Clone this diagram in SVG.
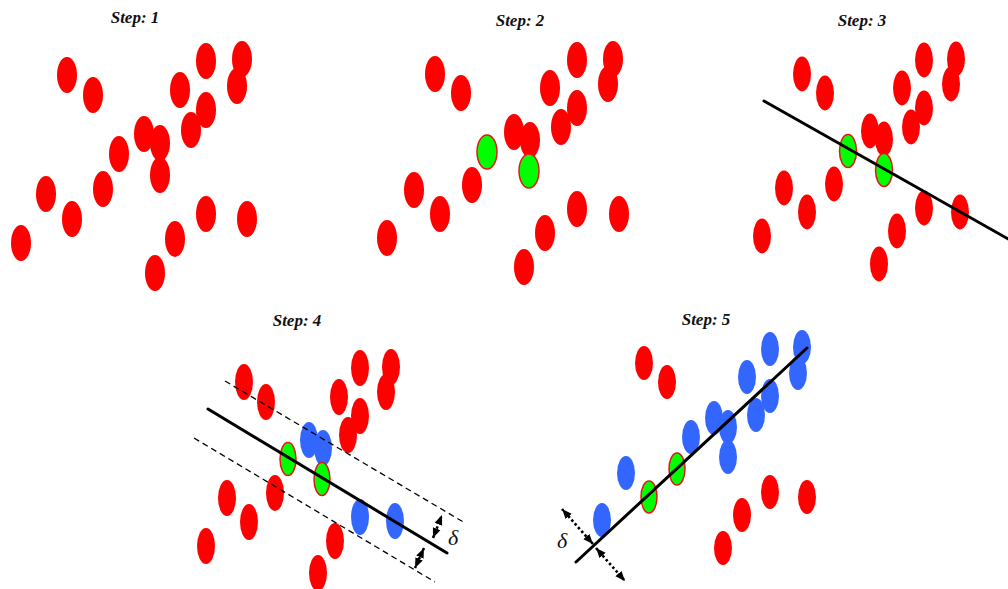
<svg xmlns="http://www.w3.org/2000/svg" width="1008" height="589" viewBox="0 0 1008 589">
<style>
.r{fill:#ff0000}
.b{fill:#3366ff}
.g{fill:#00ff00;stroke:#e8141c;stroke-width:1.5}
.t{font-family:"Liberation Serif","Times New Roman",serif;font-weight:bold;font-style:italic;font-size:17px;fill:#111;text-anchor:middle}
.d{font-family:"Liberation Serif","Times New Roman",serif;font-style:italic;font-size:22px;fill:#111;text-anchor:middle}
.ln{stroke:#000;stroke-width:3;fill:none;stroke-linecap:round}
.ds{stroke:#000;stroke-width:1.3;fill:none;stroke-dasharray:6 4}
.dt{stroke:#000;stroke-width:2.6;fill:none;stroke-dasharray:2.5 2.5;marker-start:url(#ah);marker-end:url(#ah)}
</style>
<defs>
<marker id="ah" viewBox="0 0 10 8" refX="10" refY="4" markerWidth="10" markerHeight="9" markerUnits="userSpaceOnUse" orient="auto-start-reverse">
<path d="M0,0 L10,4 L0,8 z" fill="#000"/>
</marker>
</defs>
<rect width="1008" height="589" fill="#fff"/>

<g id="step1">
<text class="t" x="135" y="23">Step: 1</text>
<g class="r">
<ellipse cx="67" cy="75" rx="10" ry="18"/>
<ellipse cx="93" cy="95" rx="10" ry="18"/>
<ellipse cx="206" cy="61" rx="10" ry="18"/>
<ellipse cx="242" cy="59" rx="10" ry="18"/>
<ellipse cx="237" cy="86" rx="10" ry="18"/>
<ellipse cx="180" cy="90" rx="10" ry="18"/>
<ellipse cx="206" cy="110" rx="10" ry="18"/>
<ellipse cx="191" cy="130" rx="10" ry="18"/>
<ellipse cx="144" cy="134" rx="10" ry="18"/>
<ellipse cx="160" cy="143" rx="10" ry="18"/>
<ellipse cx="119" cy="154" rx="10" ry="18"/>
<ellipse cx="160" cy="175" rx="10" ry="18"/>
<ellipse cx="103" cy="189" rx="10" ry="18"/>
<ellipse cx="46" cy="194" rx="10" ry="18"/>
<ellipse cx="72" cy="219" rx="10" ry="18"/>
<ellipse cx="21" cy="243" rx="10" ry="18"/>
<ellipse cx="206" cy="214" rx="10" ry="18"/>
<ellipse cx="247" cy="219" rx="10" ry="18"/>
<ellipse cx="175" cy="239" rx="10" ry="18"/>
<ellipse cx="155" cy="273" rx="10" ry="18"/>
</g>
</g>

<g id="step2">
<text class="t" x="520" y="26">Step: 2</text>
<g class="r">
<ellipse cx="435" cy="74" rx="10" ry="18"/>
<ellipse cx="461" cy="93" rx="10" ry="18"/>
<ellipse cx="577" cy="60" rx="10" ry="18"/>
<ellipse cx="613" cy="59" rx="10" ry="18"/>
<ellipse cx="608" cy="84" rx="10" ry="18"/>
<ellipse cx="550" cy="88" rx="10" ry="18"/>
<ellipse cx="577" cy="108" rx="10" ry="18"/>
<ellipse cx="561" cy="127" rx="10" ry="18"/>
<ellipse cx="514" cy="132" rx="10" ry="18"/>
<ellipse cx="530" cy="140" rx="10" ry="18"/>
<ellipse cx="472" cy="185" rx="10" ry="18"/>
<ellipse cx="414" cy="190" rx="10" ry="18"/>
<ellipse cx="440" cy="214" rx="10" ry="18"/>
<ellipse cx="387" cy="238" rx="10" ry="18"/>
<ellipse cx="577" cy="209" rx="10" ry="18"/>
<ellipse cx="619" cy="214" rx="10" ry="18"/>
<ellipse cx="545" cy="233" rx="10" ry="18"/>
<ellipse cx="524" cy="267" rx="10" ry="18"/>
</g>
<ellipse class="g" cx="487" cy="152" rx="10" ry="17"/>
<ellipse class="g" cx="529" cy="171" rx="10" ry="17"/>
</g>

<g id="step3">
<text class="t" x="862" y="26">Step: 3</text>
<g class="r">
<ellipse cx="802" cy="74" rx="9" ry="17.5"/>
<ellipse cx="825" cy="93" rx="9" ry="17.5"/>
<ellipse cx="924" cy="60" rx="9" ry="17.5"/>
<ellipse cx="956" cy="59" rx="9" ry="17.5"/>
<ellipse cx="951" cy="84" rx="9" ry="17.5"/>
<ellipse cx="902" cy="88" rx="9" ry="17.5"/>
<ellipse cx="924" cy="108" rx="9" ry="17.5"/>
<ellipse cx="911" cy="127" rx="9" ry="17.5"/>
<ellipse cx="870" cy="131" rx="9" ry="17.5"/>
<ellipse cx="884" cy="139" rx="9" ry="17.5"/>
<ellipse cx="834" cy="184" rx="9" ry="17.5"/>
<ellipse cx="784" cy="188" rx="9" ry="17.5"/>
<ellipse cx="807" cy="212" rx="9" ry="17.5"/>
<ellipse cx="762" cy="236" rx="9" ry="17.5"/>
<ellipse cx="924" cy="208" rx="9" ry="17.5"/>
<ellipse cx="960" cy="212" rx="9" ry="17.5"/>
<ellipse cx="897" cy="231" rx="9" ry="17.5"/>
<ellipse cx="879" cy="264" rx="9" ry="17.5"/>
</g>
<ellipse class="g" cx="848" cy="151" rx="8.5" ry="16.5"/>
<ellipse class="g" cx="884" cy="170" rx="8.5" ry="16.5"/>
</g>

<g id="step4">
<text class="t" x="297" y="326">Step: 4</text>
<g class="r">
<ellipse cx="244" cy="382" rx="9" ry="18"/>
<ellipse cx="266" cy="402" rx="9" ry="18"/>
<ellipse cx="360" cy="368" rx="9" ry="18"/>
<ellipse cx="391" cy="367" rx="9" ry="18"/>
<ellipse cx="386" cy="392" rx="9" ry="18"/>
<ellipse cx="339" cy="397" rx="9" ry="18"/>
<ellipse cx="360" cy="416" rx="9" ry="18"/>
<ellipse cx="348" cy="435" rx="9" ry="18"/>
<ellipse cx="275" cy="493" rx="9" ry="18"/>
<ellipse cx="227" cy="498" rx="9" ry="18"/>
<ellipse cx="249" cy="522" rx="9" ry="18"/>
<ellipse cx="206" cy="546" rx="9" ry="18"/>
<ellipse cx="335" cy="541" rx="9" ry="18"/>
<ellipse cx="318" cy="573" rx="9" ry="18"/>
</g>
<g class="b">
<ellipse cx="309" cy="440" rx="9" ry="18"/>
<ellipse cx="323" cy="448" rx="9" ry="18"/>
<ellipse cx="360" cy="517" rx="9" ry="18"/>
<ellipse cx="395" cy="521" rx="9" ry="18"/>
</g>
<ellipse class="g" cx="288" cy="459" rx="8" ry="16.5"/>
<ellipse class="g" cx="322" cy="479" rx="8" ry="16.5"/>
<text class="d" x="453" y="545">δ</text>
</g>

<g id="step5">
<text class="t" x="706" y="325">Step: 5</text>
<g class="r">
<ellipse cx="644" cy="363" rx="9" ry="17"/>
<ellipse cx="667" cy="382" rx="9" ry="17"/>
<ellipse cx="770" cy="492" rx="9" ry="17"/>
<ellipse cx="807" cy="497" rx="9" ry="17"/>
<ellipse cx="742" cy="515" rx="9" ry="17"/>
<ellipse cx="723" cy="548" rx="9" ry="17"/>
</g>
<g class="b">
<ellipse cx="770" cy="349" rx="9" ry="17"/>
<ellipse cx="802" cy="347" rx="9" ry="17"/>
<ellipse cx="798" cy="373" rx="9" ry="17"/>
<ellipse cx="747" cy="377" rx="9" ry="17"/>
<ellipse cx="770" cy="396" rx="9" ry="17"/>
<ellipse cx="756" cy="415" rx="9" ry="17"/>
<ellipse cx="714" cy="418" rx="9" ry="17"/>
<ellipse cx="728" cy="427" rx="9" ry="17"/>
<ellipse cx="691" cy="437" rx="9" ry="17"/>
<ellipse cx="728" cy="457" rx="9" ry="17"/>
<ellipse cx="626" cy="473" rx="9" ry="17"/>
<ellipse cx="602" cy="520" rx="9" ry="17"/>
</g>
<ellipse class="g" cx="677" cy="469" rx="8" ry="16"/>
<ellipse class="g" cx="649" cy="497" rx="8" ry="16"/>
<text class="d" x="562" y="548">δ</text>
</g>

<g id="connectors">
<line class="ln" x1="764" y1="101" x2="1010" y2="240"/>
<line class="ln" x1="208" y1="409" x2="447" y2="553"/>
<line class="ds" x1="225" y1="381" x2="465" y2="523"/>
<line class="ds" x1="194" y1="438" x2="435" y2="582"/>
<line class="dt" x1="433" y1="538" x2="442" y2="515"/>
<line class="dt" x1="424" y1="548" x2="415" y2="568"/>
<line class="ln" x1="576" y1="562" x2="807" y2="348"/>
<line class="dt" x1="593" y1="544" x2="562" y2="509"/>
<line class="dt" x1="596" y1="548" x2="625" y2="581"/>
</g>
</svg>
